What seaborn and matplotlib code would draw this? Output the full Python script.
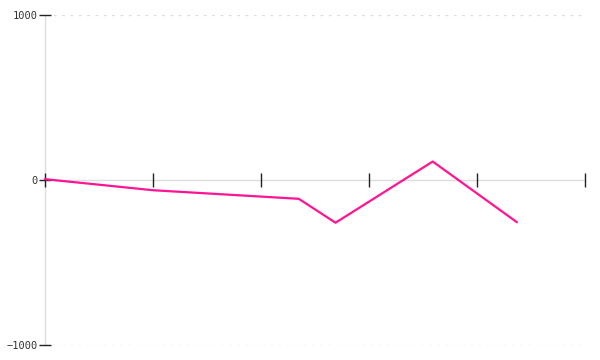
import matplotlib
matplotlib.use("Agg")
import matplotlib.pyplot as plt
import seaborn as sns
import pandas as pd

x_vals = [0.0, 1.0, 2.35, 2.69, 3.59, 4.37]
y_vals = [5, -62, -114, -259, 112, -256]
y_ticks = [-1000, 0, 1000]
x_ticks = [0, 1, 2, 3, 4, 5]

df = pd.DataFrame({"x": x_vals, "y": y_vals})

sns.set_style("white")
plt.rcParams['font.family'] = ['DejaVu Sans Mono', 'DejaVu Sans']

fig = plt.figure(figsize=(6, 3.6), dpi=100)
ax = fig.add_axes([45/600, 1-345/360, 540/600, 330/360])

sns.lineplot(data=df, x="x", y="y", ax=ax, color="#ff1493", linewidth=1.6)
for ln in ax.lines:
    ln.set_clip_on(False)
    ln.set_zorder(5)

ax.set_xlim(0, 5)
ax.set_ylim(-1000, 1000)
ax.set_xticks(x_ticks)
ax.set_xticklabels([])
ax.set_yticks(y_ticks)
ax.set_yticklabels(["−1000", "0", "1000"])
ax.set_xlabel("")
ax.set_ylabel("")

for s in ["top", "right"]:
    ax.spines[s].set_visible(False)
ax.spines["bottom"].set_position(("data", 0))
for s in ["bottom", "left"]:
    ax.spines[s].set_color("#dddddd")
    ax.spines[s].set_linewidth(1)
    ax.spines[s].set_zorder(0.5)

ax.grid(axis="y", color="#dcdcdc", linestyle=(0, (2, 4)), linewidth=1)
ax.grid(axis="x", visible=False)
ax.set_axisbelow(False)

ax.tick_params(axis="x", direction="inout", length=10, width=1, color="#222222", bottom=True)
ax.tick_params(axis="y", direction="inout", length=8, width=1, color="#222222", left=True,
               labelsize=7.5, labelcolor="#333333", pad=1)

for val, gl in zip(y_ticks, ax.yaxis.get_gridlines()):
    if val == 0:
        gl.set_visible(False)

fig.savefig("out.png", dpi=100)
